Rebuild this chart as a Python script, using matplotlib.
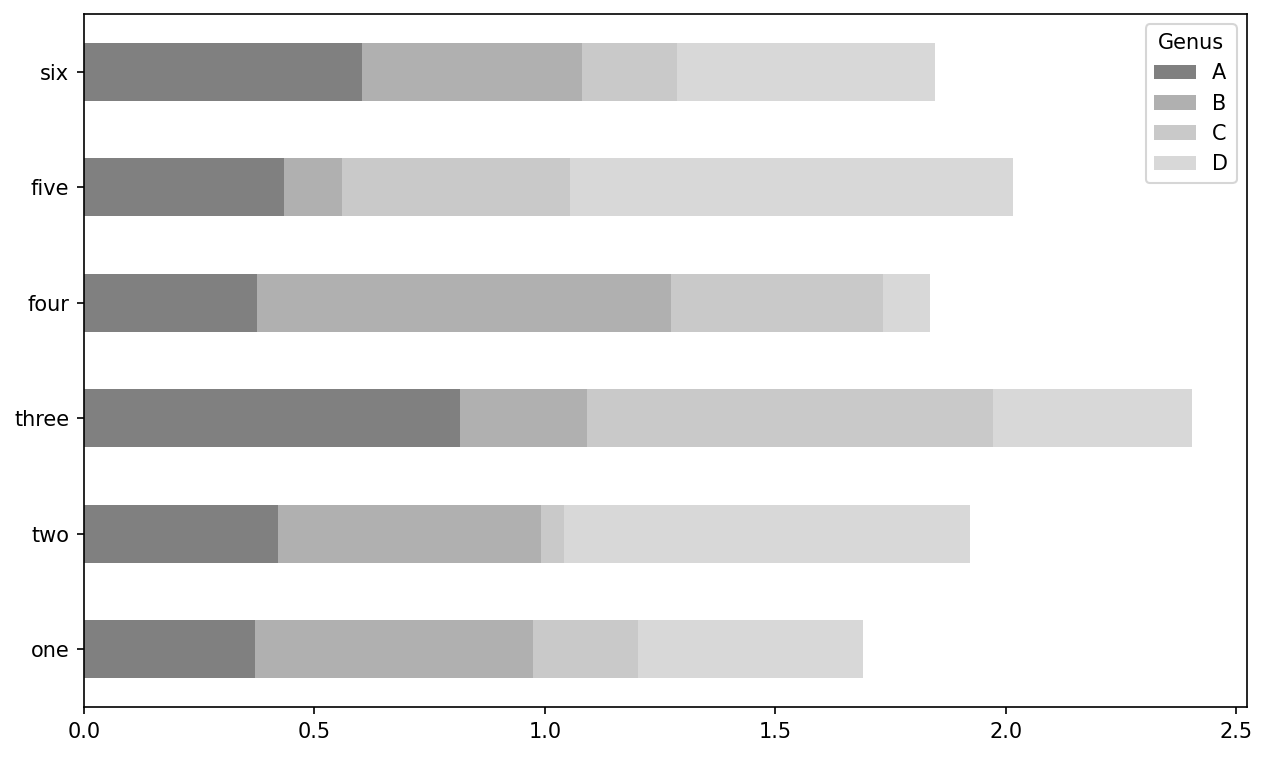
import matplotlib
matplotlib.use("Agg")
import matplotlib.pyplot as plt
import numpy as np

categories = ["one", "two", "three", "four", "five", "six"]
series_names = ["A", "B", "C", "D"]
A = [0.371, 0.421, 0.816, 0.375, 0.434, 0.603]
B = [0.603, 0.570, 0.275, 0.898, 0.126, 0.477]
C = [0.228, 0.050, 0.881, 0.460, 0.494, 0.206]
D = [0.488, 0.881, 0.431, 0.102, 0.961, 0.560]
colors = ["#808080", "#b0b0b0", "#c9c9c9", "#d8d8d8"]

DPI = 150
fig = plt.figure(figsize=(1267/DPI, 757/DPI), dpi=DPI)
ax = fig.add_axes([84/1267, 50/757, (1247-84)/1267, (707-14)/757])

y = np.arange(len(categories))
left = np.zeros(len(categories))
for name, vals, col in zip(series_names, [A, B, C, D], colors):
    ax.barh(y, vals, height=0.5, left=left, color=col, label=name)
    left = left + np.array(vals)

ax.set_yticks(y)
ax.set_yticklabels(categories)
ax.set_ylim(-0.5, len(categories) - 0.5)
ax.set_xlim(0, left.max() * 1.05)
ax.legend(title="Genus", loc="upper right")
fig.savefig("out.png", dpi=DPI)
